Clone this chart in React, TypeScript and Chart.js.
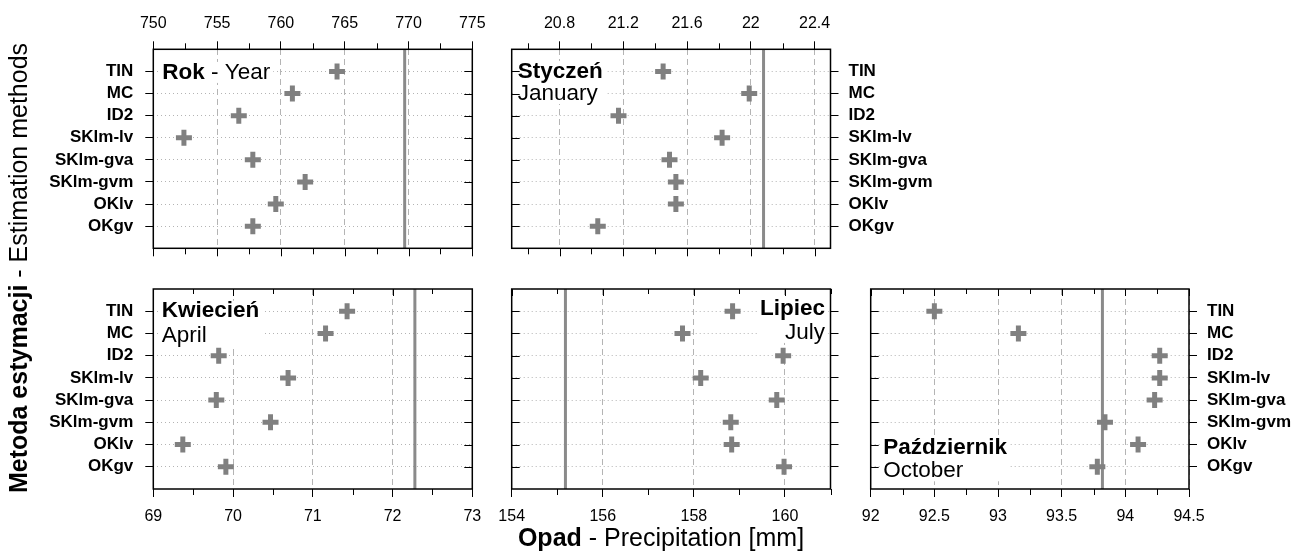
import React, { useEffect, useRef } from 'react';
import { Chart, registerables } from 'chart.js';

Chart.register(...registerables);

const W = 1292;
const H = 551;
const FONT = '"Liberation Sans", Arial, Helvetica, sans-serif';

// ---------------- data ----------------
const methods = ['TIN', 'MC', 'ID2', 'SKlm-lv', 'SKlm-gva', 'SKlm-gvm', 'OKlv', 'OKgv'];

const titlesPl = ['Rok', 'Styczeń', 'Kwiecień', 'Lipiec', 'Październik'];
const titlesEn = ['Year', 'January', 'April', 'July', 'October'];

const xTitleBold = 'Opad';
const xTitleRest = ' - Precipitation [mm]';
const yTitleBold = 'Metoda estymacji';
const yTitleRest = ' - Estimation methods';

const yearValues = [764.4, 760.9, 756.7, 752.4, 757.8, 761.9, 759.6, 757.8];
const yearObserved = 769.7;
const yearTicks = [750, 755, 760, 765, 770, 775];
const yearTickLabels = ['750', '755', '760', '765', '770', '775'];
const yearMinorTicks = [752.5, 757.5, 762.5, 767.5, 772.5];

const janValues = [21.45, 21.99, 21.17, 21.82, 21.49, 21.53, 21.53, 21.04];
const janObserved = 22.08;
const janTicks = [20.8, 21.2, 21.6, 22, 22.4];
const janTickLabels = ['20.8', '21.2', '21.6', '22', '22.4'];
const janMinorTicks = [20.6, 21, 21.4, 21.8, 22.2];

const aprValues = [71.43, 71.16, 69.82, 70.69, 69.79, 70.47, 69.37, 69.91];
const aprObserved = 72.28;
const aprTicks = [69, 70, 71, 72, 73];
const aprTickLabels = ['69', '70', '71', '72', '73'];
const aprMinorTicks = [69.5, 70.5, 71.5, 72.5];

const julValues = [158.85, 157.75, 159.96, 158.15, 159.82, 158.81, 158.83, 159.98];
const julObserved = 155.18;
const julTicks = [154, 156, 158, 160];
const julTickLabels = ['154', '156', '158', '160'];
const julMinorTicks = [155, 157, 159, 161];

const octValues = [92.5, 93.16, 94.27, 94.27, 94.23, 93.84, 94.1, 93.78];
const octObserved = 93.82;
const octTicks = [92, 92.5, 93, 93.5, 94, 94.5];
const octTickLabels = ['92', '92.5', '93', '93.5', '94', '94.5'];
const octMinorTicks = [92.25, 92.75, 93.25, 93.75, 94.25];

// ---------------- layout / style ----------------
const MARK = '#808080';
const REF = '#8a8a8a';
const GRID = '#b4b4b4';

const COLS = [
  [153.3, 472.3],
  [511.7, 830.5],
  [870.7, 1189],
];
const ROWS = [
  [49.3, 248.3],
  [289, 489],
];
const X_AXIS_H = 40;
const Y_AXIS_W_LEFT = 140;
const Y_AXIS_W_RIGHT = 103;

interface TitleSpec {
  rows: number[];
  dy: number[];
  align: 'left' | 'right';
  inset: number;
  oneLine: boolean;
}

interface PanelSpec {
  idx: number;
  values: number[];
  observed: number;
  min: number;
  max: number;
  ticks: number[];
  tickLabels: string[];
  minorTicks: number[];
  col: number;
  row: number;
  xPos: 'top' | 'bottom';
  yPos: 'left' | 'right';
  yLabels: boolean;
  oppYOut: boolean;
  title: TitleSpec;
}

const panels: PanelSpec[] = [
  {
    idx: 0, values: yearValues, observed: yearObserved, min: 750, max: 775,
    ticks: yearTicks, tickLabels: yearTickLabels, minorTicks: yearMinorTicks,
    col: 0, row: 0, xPos: 'top', yPos: 'left', yLabels: true, oppYOut: false,
    title: { rows: [1], dy: [1], align: 'left', inset: 9, oneLine: true },
  },
  {
    idx: 1, values: janValues, observed: janObserved, min: 20.5, max: 22.5,
    ticks: janTicks, tickLabels: janTickLabels, minorTicks: janMinorTicks,
    col: 1, row: 0, xPos: 'top', yPos: 'right', yLabels: true, oppYOut: false,
    title: { rows: [1, 2], dy: [0, 0], align: 'left', inset: 6, oneLine: false },
  },
  {
    idx: 2, values: aprValues, observed: aprObserved, min: 69, max: 73,
    ticks: aprTicks, tickLabels: aprTickLabels, minorTicks: aprMinorTicks,
    col: 0, row: 1, xPos: 'bottom', yPos: 'left', yLabels: true, oppYOut: false,
    title: { rows: [1, 2], dy: [0, 2], align: 'left', inset: 8.5, oneLine: false },
  },
  {
    idx: 3, values: julValues, observed: julObserved, min: 154, max: 161,
    ticks: julTicks, tickLabels: julTickLabels, minorTicks: julMinorTicks,
    col: 1, row: 1, xPos: 'bottom', yPos: 'right', yLabels: false, oppYOut: false,
    title: { rows: [1, 2], dy: [-2, -1], align: 'right', inset: 5.5, oneLine: false },
  },
  {
    idx: 4, values: octValues, observed: octObserved, min: 92, max: 94.5,
    ticks: octTicks, tickLabels: octTickLabels, minorTicks: octMinorTicks,
    col: 2, row: 1, xPos: 'bottom', yPos: 'right', yLabels: true, oppYOut: false,
    title: { rows: [7, 8], dy: [3, 4], align: 'left', inset: 12.5, oneLine: false },
  },
];

type Part = { s: string; b: boolean };

function setFont(ctx: CanvasRenderingContext2D, bold: boolean, size: number) {
  ctx.font = `${bold ? 'bold ' : ''}${size}px ${FONT}`;
}

function partsWidth(ctx: CanvasRenderingContext2D, parts: Part[], size: number) {
  let w = 0;
  for (const p of parts) {
    setFont(ctx, p.b, size);
    w += ctx.measureText(p.s).width;
  }
  return w;
}

function drawParts(ctx: CanvasRenderingContext2D, parts: Part[], x: number, y: number, size: number) {
  let cx = x;
  ctx.textAlign = 'left';
  for (const p of parts) {
    setFont(ctx, p.b, size);
    ctx.fillText(p.s, cx, y);
    cx += ctx.measureText(p.s).width;
  }
}

function makeDecor(p: PanelSpec) {
  const TITLE_SIZE = 22.5;
  return {
    id: 'decor' + p.idx,
    beforeDatasetsDraw(chart: any) {
      const { ctx, chartArea: a } = chart;
      const ys = chart.scales.y;
      const t = p.title;
      const lines: Part[][] = t.oneLine
        ? [[{ s: titlesPl[p.idx], b: true }, { s: ' - ' + titlesEn[p.idx], b: false }]]
        : [[{ s: titlesPl[p.idx], b: true }], [{ s: titlesEn[p.idx], b: false }]];
      ctx.save();
      const widths = lines.map((l) => partsWidth(ctx, l, TITLE_SIZE));
      const maxW = Math.max(...widths);
      const yy = lines.map((_, i) => ys.getPixelForValue(t.rows[i]) + t.dy[i]);
      const x0 = t.align === 'left' ? a.left + t.inset : a.right - t.inset - maxW;
      ctx.fillStyle = '#ffffff';
      ctx.fillRect(x0 - 3, yy[0] - 10.5, maxW + 6, yy[yy.length - 1] - yy[0] + 21);
      ctx.fillStyle = '#000000';
      ctx.textBaseline = 'middle';
      lines.forEach((l, i) => {
        const x = t.align === 'left' ? x0 : a.right - t.inset - widths[i];
        drawParts(ctx, l, x, yy[i], TITLE_SIZE);
      });
      ctx.restore();
    },
    afterDatasetsDraw(chart: any) {
      const { ctx, chartArea: a } = chart;
      const xs = chart.scales.x;
      const ys = chart.scales.y;
      ctx.save();
      ctx.strokeStyle = '#000000';
      ctx.lineWidth = 1;
      ctx.setLineDash([]);
      ctx.beginPath();
      const line = (x1: number, y1: number, x2: number, y2: number) => {
        ctx.moveTo(x1, y1);
        ctx.lineTo(x2, y2);
      };
      const top = p.xPos === 'top';
      for (const v of p.minorTicks) {
        const px = Math.round(xs.getPixelForValue(v)) + 0.5;
        if (top) line(px, a.top, px, a.top - 6);
        else line(px, a.bottom, px, a.bottom + 6);
      }
      const all = [...p.ticks.map((v) => [v, 1]), ...p.minorTicks.map((v) => [v, 0])];
      for (const [v, major] of all) {
        const px = Math.round(xs.getPixelForValue(v)) + 0.5;
        if (top) line(px, a.bottom, px, a.bottom + (major ? 8 : 6));
        else line(px, a.top, px, a.top + (major ? 7 : 5));
      }
      const ox = p.yPos === 'left' ? a.right : a.left;
      const dir = p.yPos === 'left' ? (p.oppYOut ? 1 : -1) : (p.oppYOut ? -1 : 1);
      methods.forEach((_, i) => {
        const py = Math.round(ys.getPixelForValue(i + 1)) + 0.5;
        line(ox, py, ox + dir * 8, py);
      });
      ctx.stroke();
      ctx.lineWidth = 1.5;
      ctx.strokeRect(a.left, a.top, a.right - a.left, a.bottom - a.top);
      ctx.restore();
    },
    afterDraw(chart: any) {
      if (p.idx !== 0) return;
      const ctx: CanvasRenderingContext2D = chart.ctx;
      const size = 25;
      ctx.save();
      ctx.fillStyle = '#000000';
      ctx.textBaseline = 'alphabetic';
      const xParts: Part[] = [{ s: xTitleBold, b: true }, { s: xTitleRest, b: false }];
      const xw = partsWidth(ctx, xParts, size);
      drawParts(ctx, xParts, 661 - xw / 2, 546, size);
      const yParts: Part[] = [{ s: yTitleBold, b: true }, { s: yTitleRest, b: false }];
      const yw = partsWidth(ctx, yParts, size);
      ctx.translate(27, 268);
      ctx.rotate(-Math.PI / 2);
      drawParts(ctx, yParts, -yw / 2, 0, size);
      ctx.restore();
    },
  };
}

function buildConfig(p: PanelSpec): any {
  const [l, r] = COLS[p.col];
  const [t, b] = ROWS[p.row];
  const majorSet = new Set(p.ticks);
  const yW = p.yPos === 'left' ? Y_AXIS_W_LEFT : Y_AXIS_W_RIGHT;
  const pad = {
    left: l - (p.yPos === 'left' ? yW : 0),
    right: W - r - (p.yPos === 'right' ? yW : 0),
    top: t - (p.xPos === 'top' ? X_AXIS_H : 0),
    bottom: H - b - (p.xPos === 'bottom' ? X_AXIS_H : 0),
  };
  return {
    type: 'scatter',
    data: {
      datasets: [
        {
          label: 'observed',
          data: [
            { x: p.observed, y: 0 },
            { x: p.observed, y: 9 },
          ],
          showLine: true,
          borderColor: REF,
          borderWidth: 3,
          pointRadius: 0,
          order: 2,
        },
        {
          label: 'estimated',
          data: p.values.map((v, i) => ({ x: v, y: i + 1 })),
          pointStyle: 'cross',
          pointRadius: 8,
          pointHoverRadius: 8,
          pointBorderWidth: 5,
          pointBorderColor: MARK,
          pointBackgroundColor: MARK,
          order: 1,
        },
      ],
    },
    options: {
      responsive: false,
      animation: false,
      devicePixelRatio: 1,
      events: [],
      layout: { padding: pad },
      plugins: { legend: { display: false }, tooltip: { enabled: false } },
      scales: {
        x: {
          type: 'linear',
          position: p.xPos,
          min: p.min,
          max: p.max,
          afterBuildTicks: (s: any) => {
            s.ticks = p.ticks.map((v) => ({ value: v }));
          },
          afterFit: (s: any) => {
            s.height = X_AXIS_H;
          },
          ticks: {
            callback: (_v: any, i: number) => p.tickLabels[i],
            autoSkip: false,
            maxRotation: 0,
            minRotation: 0,
            font: { family: FONT, size: 16 },
            color: '#000000',
            padding: p.xPos === 'top' ? 8.5 : 10,
          },
          grid: {
            color: (c: any) => (c.tick && majorSet.has(c.tick.value) ? GRID : 'rgba(0,0,0,0)'),
            lineWidth: 1,
            drawTicks: true,
            tickLength: 8,
            tickColor: '#000000',
            tickWidth: 1,
          },
          border: { display: false, dash: [6, 4] },
        },
        y: {
          type: 'linear',
          position: p.yPos,
          min: 0,
          max: 9,
          reverse: true,
          afterBuildTicks: (s: any) => {
            s.ticks = methods.map((_, i) => ({ value: i + 1 }));
          },
          afterFit: (s: any) => {
            s.width = yW;
          },
          ticks: {
            display: p.yLabels,
            callback: (_v: any, i: number) => methods[i],
            autoSkip: false,
            font: { family: FONT, size: 17, weight: 'bold' },
            color: '#000000',
            padding: p.yPos === 'left' ? 12 : 10,
          },
          grid: {
            color: GRID,
            lineWidth: 1,
            drawTicks: true,
            tickLength: 8,
            tickColor: '#000000',
            tickWidth: 1,
          },
          border: { display: false, dash: [1, 3] },
        },
      },
    },
    plugins: [makeDecor(p)],
  };
}

export default function App() {
  const refs = useRef<(HTMLCanvasElement | null)[]>([]);
  useEffect(() => {
    const charts = panels.map((p, i) => new Chart(refs.current[i] as HTMLCanvasElement, buildConfig(p)));
    return () => {
      charts.forEach((c) => c.destroy());
    };
  }, []);
  return (
    <div style={{ position: 'absolute', left: 0, top: 0, width: W, height: H, background: '#ffffff' }}>
      {panels.map((p, i) => (
        <canvas
          key={p.idx}
          ref={(el) => {
            refs.current[i] = el;
          }}
          width={W}
          height={H}
          style={{ position: 'absolute', left: 0, top: 0, width: W, height: H }}
        />
      ))}
    </div>
  );
}
